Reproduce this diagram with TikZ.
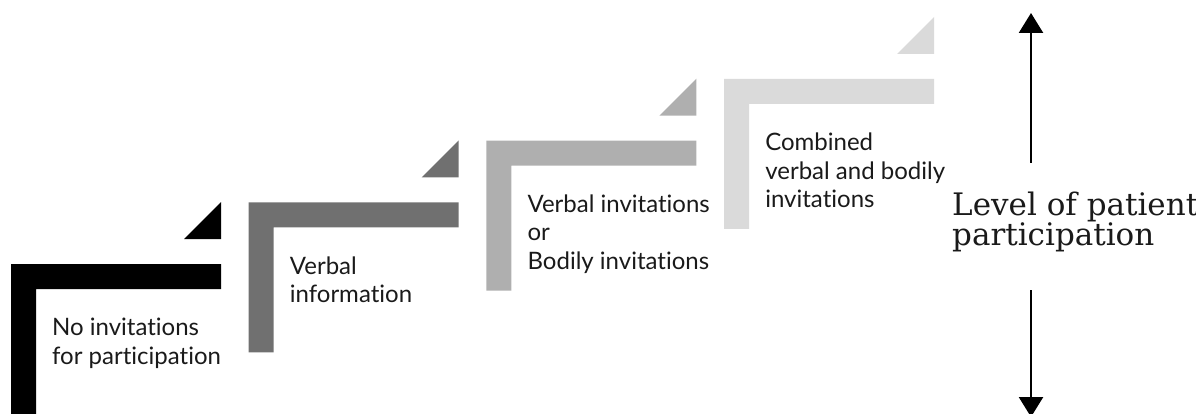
\documentclass[tikz,border=0pt]{standalone}
\usepackage{fontspec}
\setmainfont{Lato}[Ligatures=NoCommon]
\newfontfamily\slabfont{DejaVu Serif}
\usetikzlibrary{arrows.meta,positioning,calc}
\definecolor{stepA}{HTML}{000000}
\definecolor{stepB}{HTML}{707070}
\definecolor{stepC}{HTML}{AFAFAF}
\definecolor{stepD}{HTML}{DADADA}
\definecolor{ink}{HTML}{1A1A1A}

\begin{document}
\begin{tikzpicture}[x=1pt,y=1pt,
  steplabel/.style={anchor=north west,inner sep=0pt,align=left,
    font=\fontsize{24}{28.5}\selectfont,text=ink},
  levelarrow/.style={line width=2.5pt,-{Triangle[width=24pt,length=20pt]}}]
  \useasboundingbox (0,0) rectangle (1196,413);
  % the four steps, each an L-shaped bar with a corner wedge
  \foreach \i/\c/\t in {0/stepA/{No invitations\\for participation},
                         1/stepB/{Verbal\\information},
                         2/stepC/{Verbal invitations\\or\\Bodily invitations},
                         3/stepD/{Combined\\verbal and bodily\\invitations}}{
    \pgfmathsetmacro\sx{11+237.7*\i}
    \pgfmathsetmacro\sy{149+61.7*\i}
    \fill[\c] (\sx,\sy) -- ++(210,0) -- ++(0,-25) -- ++(-185,0) -- ++(0,-125) -- ++(-25,0) -- cycle;
    \fill[\c] (\sx+210,\sy+25) -- ++(0,37) -- ++(-37,-37) -- cycle;
    \node[steplabel] (step\i) at (\sx+41,\sy-54) {\t};
  }
  \node[anchor=north west,inner sep=0pt,align=left,text=ink,
    font=\slabfont\fontsize{31}{30}\selectfont] (level) at (952,221) {Level of patient\\participation};
  \coordinate (upFrom) at (1031,250);
  \coordinate (upTo) at (1031,400);
  \coordinate (downFrom) at (1031,123);
  \coordinate (downTo) at (1031,-4);
  \draw[levelarrow] (upFrom) -- (upTo);
  \draw[levelarrow] (downFrom) -- (downTo);
\end{tikzpicture}
\end{document}
